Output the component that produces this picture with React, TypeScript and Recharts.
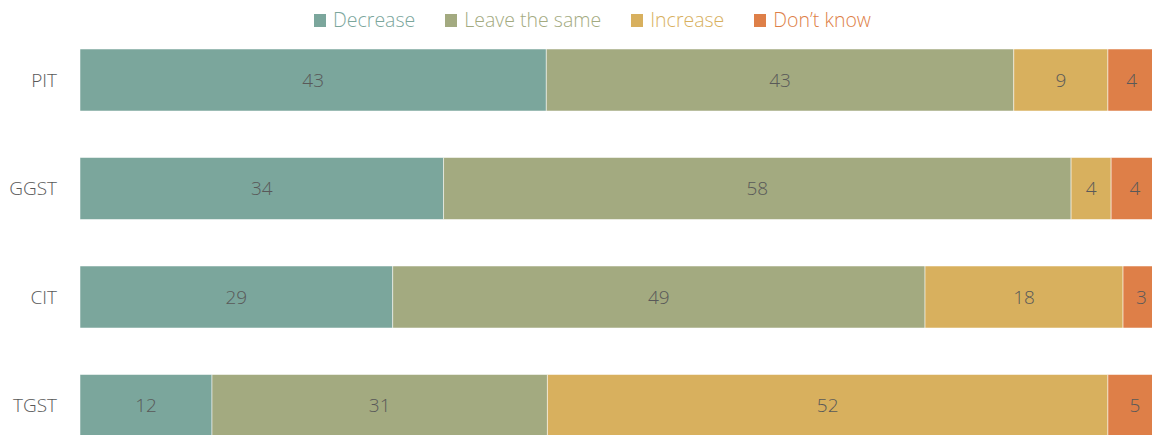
import React from "react";
import { BarChart, Bar, XAxis, YAxis, LabelList } from "recharts";

const categories = ["PIT", "GGST", "CIT", "TGST"];
const decrease = [43.1, 33.6, 28.9, 12.2];
const leaveSame = [43.2, 58.0, 49.2, 31.0];
const increase = [8.7, 3.7, 18.3, 51.8];
const dontKnow = [4.4, 4.4, 3.4, 5.0];

const seriesNames = ["Decrease", "Leave the same", "Increase", "Don\u2019t know"];
const seriesKeys = ["decrease", "leaveSame", "increase", "dontKnow"];
const seriesColors = ["#7BA69C", "#A3AA80", "#D8B05E", "#DE7F48"];

const data = categories.map((c, i) => ({
  name: c,
  decrease: decrease[i],
  leaveSame: leaveSame[i],
  increase: increase[i],
  dontKnow: dontKnow[i],
}));

const FONT = "'Open Sans', 'Noto Sans', sans-serif";

export default function App() {
  return (
    <div
      style={{
        position: "absolute",
        left: 0,
        top: 0,
        width: 1152,
        height: 435,
        overflow: "hidden",
        background: "#fff",
        fontFamily: FONT,
      }}
    >
      <div
        style={{
          position: "absolute",
          top: 6,
          left: 0,
          width: 1185,
          display: "flex",
          justifyContent: "center",
          gap: 30,
          fontSize: 19.5,
          fontWeight: 300,
          lineHeight: "28px",
        }}
      >
        {seriesNames.map((n, i) => (
          <div key={n} style={{ display: "flex", alignItems: "center", color: seriesColors[i] }}>
            <span
              style={{
                display: "inline-block",
                width: 12,
                height: 13,
                background: seriesColors[i],
                marginRight: 7,
              }}
            />
            <span>{n}</span>
          </div>
        ))}
      </div>
      <BarChart
        width={1170}
        height={470}
        data={data}
        layout="vertical"
        margin={{ top: 26, right: 8, bottom: 10, left: 0 }}
        barSize={62}
        style={{ position: "absolute", left: 0, top: 0 }}
      >
        <XAxis type="number" domain={[0, 100]} hide />
        <YAxis
          type="category"
          dataKey="name"
          width={80}
          axisLine={false}
          tickLine={false}
          tickSize={0}
          tickMargin={23}
          tick={{ fill: "#595959", fontSize: 19, fontFamily: FONT, fontWeight: 300 }}
        />
        {seriesKeys.map((k, i) => (
          <Bar
            key={k}
            dataKey={k}
            stackId="a"
            fill={seriesColors[i]}
            stroke="#ffffff"
            strokeOpacity={0.5}
            strokeWidth={1}
            isAnimationActive={false}
          >
            <LabelList
              dataKey={k}
              position="center"
              formatter={(v: number) => Math.round(v)}
              fill="#595959"
              fontSize={19}
              fontFamily={FONT}
              fontWeight={300}
            />
          </Bar>
        ))}
      </BarChart>
    </div>
  );
}
